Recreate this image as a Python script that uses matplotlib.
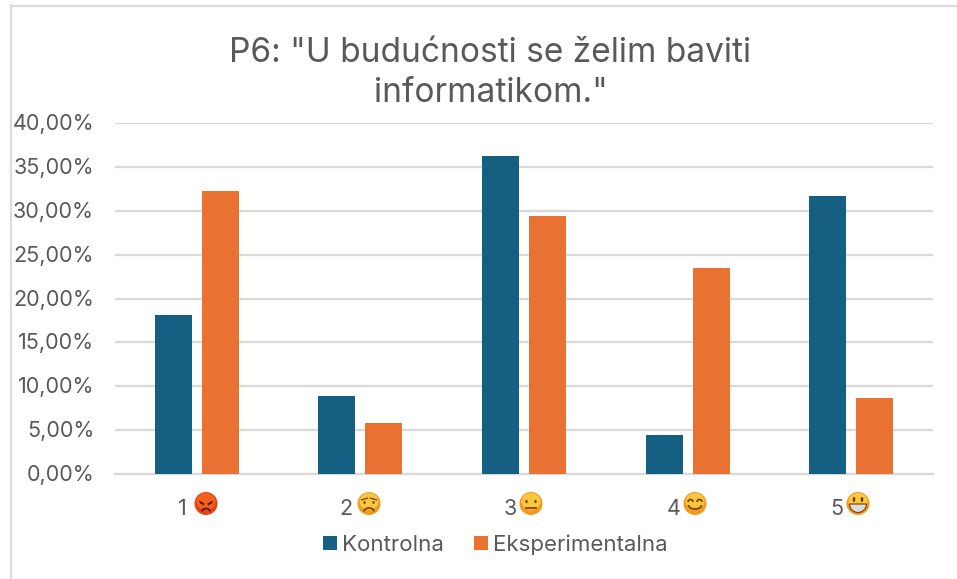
import matplotlib
matplotlib.use("Agg")
import matplotlib.pyplot as plt
from matplotlib.patches import Circle, Polygon, Arc, Ellipse, Wedge
from matplotlib.transforms import Affine2D

categories = ["1", "2", "3", "4", "5"]
kontrolna = [18.1, 8.9, 36.2, 4.4, 31.7]
eksperimentalna = [32.3, 5.8, 29.4, 23.5, 8.7]
y_ticks = [0, 5, 10, 15, 20, 25, 30, 35, 40]
series_names = ["Kontrolna", "Eksperimentalna"]
title_text = 'P6: "U budućnosti se želim baviti\ninformatikom."'

W, H = 957, 579
plt.rcParams['font.family'] = ['Inter', 'DejaVu Sans']
fig = plt.figure(figsize=(W/100, H/100), dpi=100, facecolor='white')
px = Affine2D().scale(1, -1).translate(0, H)  # pixel coords, y down

# outer chart frame
for xs, ys in [((10.5, 10.5), (5, 579)), ((10.5, 957), (5.5, 5.5))]:
    fig.add_artist(plt.Line2D(xs, ys, transform=px, color='#dcdcdc', lw=1.6))

ax = fig.add_axes([115/W, 1-474/H, (933-115)/W, (474-123)/H])
x = list(range(len(categories)))
w, off = 0.226, 0.144
ax.bar([i-off for i in x], kontrolna, w, color='#156082', zorder=3, label=series_names[0])
ax.bar([i+off for i in x], eksperimentalna, w, color='#E97132', zorder=3, label=series_names[1])
ax.set_xlim(-0.5, 4.5)
ax.set_ylim(0, 40)
ax.set_yticks(y_ticks)
ax.set_yticklabels([f"{v:.2f}%".replace('.', ',') for v in y_ticks], fontsize=15.5, color='#595959')
ax.set_xticks(x)
ax.set_xticklabels(categories, fontsize=15.5, color='#595959')
ax.tick_params(length=0)
ax.tick_params(axis='y', pad=15)
ax.tick_params(axis='x', pad=0)
# shift number labels left of their emoji and to the target baseline
for lab in ax.get_xticklabels():
    lab.set_transform(lab.get_transform() + Affine2D().translate(-14, -25))
for lab in ax.get_yticklabels():
    lab.set_transform(lab.get_transform() + Affine2D().translate(0, 1))
ax.grid(axis='y', color='#d9d9d9', lw=1.6, zorder=0)
ax.set_axisbelow(True)
for s in ['top', 'right', 'left']:
    ax.spines[s].set_visible(False)
ax.spines['bottom'].set_color('#d9d9d9')
ax.spines['bottom'].set_linewidth(1.6)

fig.text(490.5/W, 1-73/H, title_text, ha='center', va='center', fontsize=24.1,
         color='#595959', linespacing=1.33)

leg = fig.legend(handles=ax.get_legend_handles_labels()[0], labels=series_names,
                 ncol=2, loc='center', bbox_to_anchor=(495/W, 1-544.5/H), frameon=False,
                 fontsize=16, labelcolor='#595959', handlelength=0.63, handleheight=0.63,
                 handletextpad=0.22, columnspacing=1.35, borderpad=0)

# emoji faces next to the tick labels, drawn as shapes
def add(p):
    p.set_transform(px)
    fig.add_artist(p)

def face(cx, cy, top, bottom):
    add(Circle((cx, cy), 11.5, fc=bottom, ec='none'))
    add(Ellipse((cx, cy-2), 19, 17, fc=top, ec='none'))

def mouth(cx, cy, width, height, t1, t2, color='#7a4a10', lw=1.3):
    add(Arc((cx, cy), width, height, theta1=t1, theta2=t2, color=color, lw=lw))

cy = 503.5
cxs = [206, 369, 531, 695, 858]
# 1 angry
face(cxs[0], cy, '#f2601c', '#e8401a')
add(Polygon([(cxs[0]-7, cy-3), (cxs[0]-1.5, cy), (cxs[0]-2, cy+2), (cxs[0]-6, cy)], fc='#5a1a10', ec='none'))
add(Polygon([(cxs[0]+7, cy-3), (cxs[0]+1.5, cy), (cxs[0]+2, cy+2), (cxs[0]+6, cy)], fc='#5a1a10', ec='none'))
mouth(cxs[0], cy+8, 8, 6, 180, 360, '#5a1a10')
# 2 worried
face(cxs[1], cy, '#fbc740', '#f39a1c')
for d in (-4.5, 4.5):
    add(Circle((cxs[1]+d, cy-1), 1.3, fc='#7a4a10', ec='none'))
    add(plt.Line2D((cxs[1]+d-3, cxs[1]+d+3), (cy-4.5-d*0.2, cy-4.5+d*0.2), transform=px, color='#7a4a10', lw=1))
mouth(cxs[1], cy+8, 10, 7, 180, 360)
# 3 neutral
face(cxs[2], cy, '#fbc740', '#f39a1c')
for d in (-4.5, 4.5):
    add(Ellipse((cxs[2]+d, cy-2), 2.4, 3.4, fc='#7a4a10', ec='none'))
add(plt.Line2D((cxs[2]-5, cxs[2]+5), (cy+4.5, cy+4.5), transform=px, color='#7a4a10', lw=1.3))
# 4 smiling
face(cxs[3], cy, '#fbc740', '#f39a1c')
for d in (-4.5, 4.5):
    mouth(cxs[3]+d, cy-1.5, 5, 5, 180, 360)
mouth(cxs[3], cy+1.5, 13, 8, 0, 180)
# 5 grinning
face(cxs[4], cy, '#fbc740', '#f39a1c')
for d in (-4, 4):
    add(Ellipse((cxs[4]+d, cy-4), 2.6, 5, fc='#6a4010', ec='none'))
add(Wedge((cxs[4], cy+0.5), 8.5, 0, 180, fc='#dcdcdc', ec='#7a4a10', lw=0.9))

fig.savefig("out.png", dpi=100, facecolor='white')
